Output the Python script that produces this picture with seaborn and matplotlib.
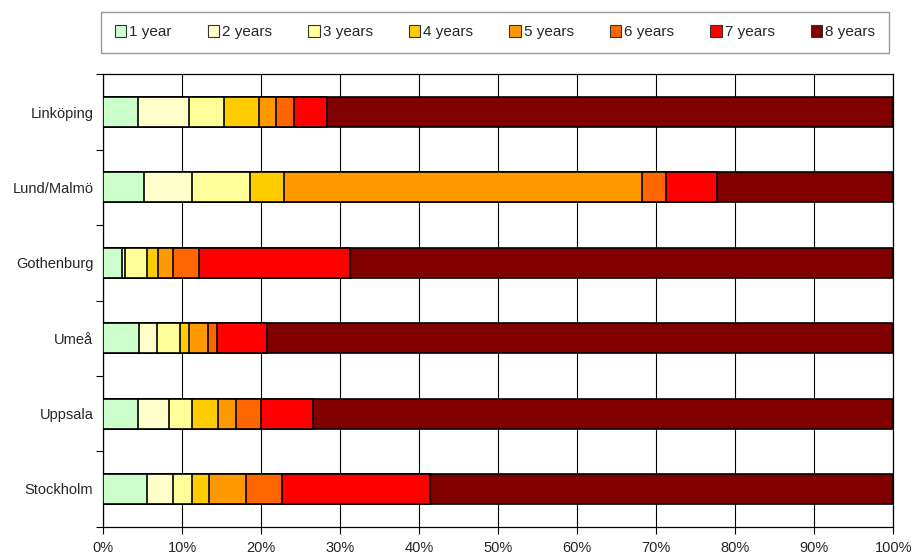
import numpy as np
import pandas as pd
import matplotlib
matplotlib.use("Agg")
import matplotlib.pyplot as plt
from matplotlib.patches import Patch
from matplotlib.ticker import FixedLocator, FuncFormatter
import seaborn as sns

cities = ["Linköping", "Lund/Malmö", "Gothenburg", "Umeå", "Uppsala", "Stockholm"]
series = ["1 year", "2 years", "3 years", "4 years", "5 years", "6 years", "7 years", "8 years"]

# share of each duration per city, in percent
y1 = [4.4, 5.2, 2.4, 4.6, 4.4, 5.6]
y2 = [6.5, 6.0, 0.4, 2.2, 3.9, 3.2]
y3 = [4.4, 7.4, 2.8, 3.0, 2.9, 2.4]
y4 = [4.4, 4.3, 1.4, 1.1, 3.3, 2.2]
y5 = [2.2, 45.3, 1.9, 2.4, 2.3, 4.7]
y6 = [2.3, 3.1, 3.2, 1.1, 3.2, 4.5]
y7 = [4.2, 6.4, 19.1, 6.3, 6.6, 18.8]
y8 = [71.6, 22.3, 68.8, 79.3, 73.4, 58.6]

colors = ["#CCFFCC", "#FFFFCC", "#FFFF99", "#FFCC00", "#FF9900", "#FF6600", "#FF0000", "#800000"]
xticks = [0, 10, 20, 30, 40, 50, 60, 70, 80, 90, 100]

sns.set_theme(style="white")
plt.rcParams["font.family"] = ["Liberation Sans", "DejaVu Sans"]
plt.rcParams["font.size"] = 10.5

values = np.array([y1, y2, y3, y4, y5, y6, y7, y8])
cum = np.cumsum(values, axis=0)

fig = plt.figure(figsize=(9.14, 5.56), dpi=100)
ax = fig.add_axes([103 / 914, 1 - 526.7 / 556, 790.3 / 914, 452.4 / 556])

# stacked bars: draw cumulative totals from the outermost layer inward
for i in range(len(series) - 1, -1, -1):
    df = pd.DataFrame({"city": cities, "value": cum[i]})
    sns.barplot(data=df, x="value", y="city", order=cities, orient="h",
                color=colors[i], saturation=1, width=0.4,
                edgecolor="black", linewidth=1.2, ax=ax, zorder=3)

ax.set_xlim(0, 100)
ax.set_ylim(len(cities) - 0.5, -0.5)
ax.set_xlabel("")
ax.set_ylabel("")

ax.xaxis.set_major_locator(FixedLocator(xticks))
ax.xaxis.set_major_formatter(FuncFormatter(lambda v, p: f"{int(v)}%"))
ax.tick_params(axis="x", which="major", direction="out", length=5, width=0.8,
               color="black", labelsize=10.5, pad=5, bottom=True)

ax.set_yticks(range(len(cities)))
ax.set_yticklabels(cities)
ax.tick_params(axis="y", which="major", length=0, labelsize=10.5, pad=7)
ax.yaxis.set_minor_locator(FixedLocator(np.arange(-0.5, len(cities), 1.0)))
ax.tick_params(axis="y", which="minor", direction="out", length=5, width=0.8,
               color="black", left=True)

ax.grid(axis="x", color="black", linewidth=0.8, zorder=0)
ax.set_axisbelow(True)
for side in ["left", "bottom", "top", "right"]:
    ax.spines[side].set_visible(True)
    ax.spines[side].set_color("black")
    ax.spines[side].set_linewidth(0.9)

handles = [Patch(facecolor=c, edgecolor="#333333", linewidth=0.8) for c in colors]
leg = fig.legend(handles, series, loc="lower left", ncol=8, mode="expand",
                 bbox_to_anchor=(101 / 914, 1 - 53 / 556, 788 / 914, 44 / 556),
                 frameon=True, fancybox=False, shadow=False, fontsize=11,
                 handlelength=0.75, handleheight=0.75, handletextpad=0.2,
                 borderaxespad=0, borderpad=0.9)
leg.get_frame().set_edgecolor("#808080")
leg.get_frame().set_linewidth(1.0)

fig.savefig("out.png", dpi=100)
